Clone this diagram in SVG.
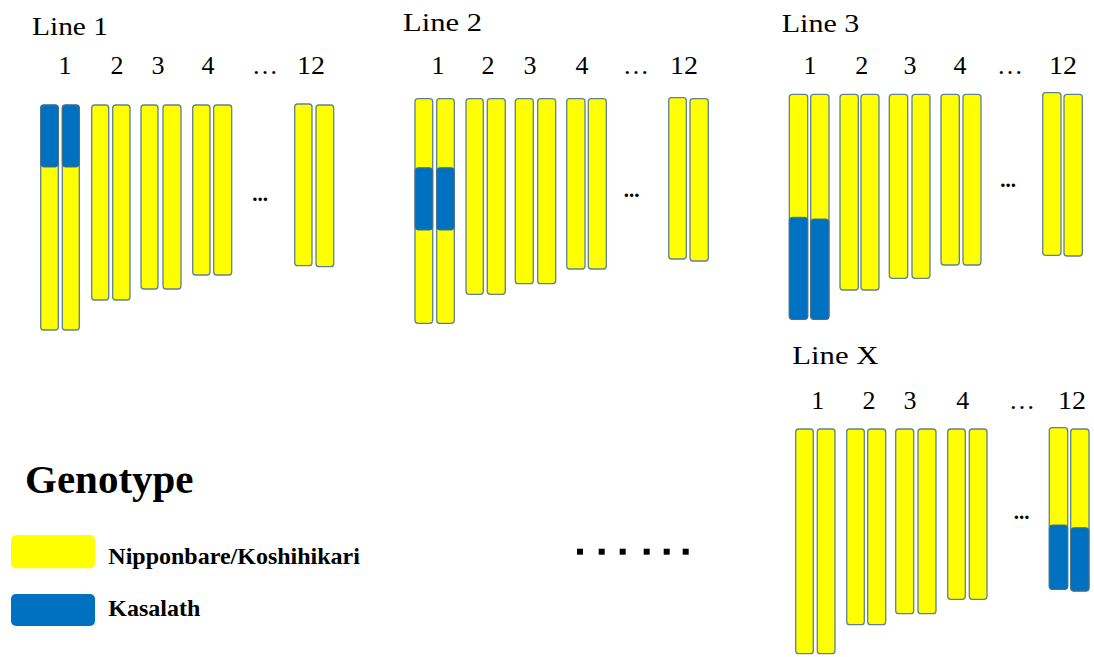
<svg xmlns="http://www.w3.org/2000/svg" width="1094" height="657" viewBox="0 0 1094 657">
<style>
.y{fill:#ffff00;stroke:#5f8290;stroke-width:1.3}
.b{fill:#0070c0;stroke:#4a7088;stroke-width:1}
.t{font-family:"Liberation Serif",serif;font-size:26px;fill:#000}
.n{font-family:"Liberation Serif",serif;font-size:26px;fill:#000;text-anchor:middle}
.d{font-family:"Liberation Serif",serif;font-size:21px;font-weight:bold;fill:#000;text-anchor:middle}
.l{font-family:"Liberation Serif",serif;font-weight:bold;fill:#000}
</style>
<rect width="1094" height="657" fill="#fff"/>
<g id="line1">
<text class="t" x="32" y="35" textLength="76" lengthAdjust="spacingAndGlyphs">Line 1</text>
<text class="n" x="65" y="74">1</text>
<text class="n" x="117" y="74">2</text>
<text class="n" x="158" y="74">3</text>
<text class="n" x="208" y="74">4</text>
<text class="n" x="265" y="74">…</text>
<text class="n" x="311" y="74" textLength="28" lengthAdjust="spacingAndGlyphs">12</text>
<rect class="y" x="40.7" y="105" width="17.6" height="225" rx="3"/>
<rect class="y" x="62.3" y="105" width="17" height="225" rx="3"/>
<rect class="b" x="40.7" y="105" width="17.6" height="62" rx="3"/>
<rect class="b" x="62.3" y="105" width="17" height="62" rx="3"/>
<rect class="y" x="91.7" y="105" width="17" height="195" rx="3"/>
<rect class="y" x="112.7" y="105" width="17.3" height="195" rx="3"/>
<rect class="y" x="141" y="105" width="17" height="184" rx="3"/>
<rect class="y" x="163" y="105" width="18" height="184" rx="3"/>
<rect class="y" x="192.7" y="105" width="17.3" height="170" rx="3"/>
<rect class="y" x="213.7" y="105" width="18" height="170" rx="3"/>
<text class="d" x="260" y="201">...</text>
<rect class="y" x="294.7" y="104" width="17.3" height="161.7" rx="3"/>
<rect class="y" x="316" y="105" width="17.7" height="161.7" rx="3"/>
</g>
<g id="line2">
<text class="t" x="403" y="31" textLength="79" lengthAdjust="spacingAndGlyphs">Line 2</text>
<text class="n" x="438" y="74">1</text>
<text class="n" x="488" y="74">2</text>
<text class="n" x="530" y="74">3</text>
<text class="n" x="582" y="74">4</text>
<text class="n" x="636" y="74">…</text>
<text class="n" x="684" y="74" textLength="28" lengthAdjust="spacingAndGlyphs">12</text>
<rect class="y" x="415" y="98.7" width="17.7" height="224.6" rx="3"/>
<rect class="y" x="436.7" y="98.7" width="17.6" height="224.6" rx="3"/>
<rect class="b" x="415" y="167.7" width="17.7" height="62.3" rx="3"/>
<rect class="b" x="436.7" y="167.7" width="17.6" height="62.3" rx="3"/>
<rect class="y" x="466" y="98.7" width="17.3" height="195.6" rx="3"/>
<rect class="y" x="487.3" y="98.7" width="18" height="195.6" rx="3"/>
<rect class="y" x="515.3" y="98.7" width="18" height="185" rx="3"/>
<rect class="y" x="537.7" y="98.7" width="18" height="185" rx="3"/>
<rect class="y" x="566.7" y="98.7" width="18.3" height="170.3" rx="3"/>
<rect class="y" x="588.3" y="98.7" width="18" height="170.3" rx="3"/>
<text class="d" x="631.7" y="197">...</text>
<rect class="y" x="668.7" y="97.7" width="17.6" height="161.3" rx="3"/>
<rect class="y" x="690" y="98.7" width="18.3" height="162.3" rx="3"/>
</g>
<g id="line3">
<text class="t" x="781.7" y="31.7" textLength="77.6" lengthAdjust="spacingAndGlyphs">Line 3</text>
<text class="n" x="810" y="74">1</text>
<text class="n" x="861.7" y="74">2</text>
<text class="n" x="910" y="74">3</text>
<text class="n" x="960" y="74">4</text>
<text class="n" x="1010" y="74">…</text>
<text class="n" x="1063" y="74" textLength="28" lengthAdjust="spacingAndGlyphs">12</text>
<rect class="y" x="789.3" y="94.3" width="18.4" height="225" rx="3"/>
<rect class="y" x="810.7" y="94.3" width="18.3" height="225" rx="3"/>
<rect class="b" x="789.3" y="217.3" width="18.4" height="102" rx="3"/>
<rect class="b" x="810.7" y="219" width="18.3" height="100.3" rx="3"/>
<rect class="y" x="840" y="94.3" width="18.3" height="195.7" rx="3"/>
<rect class="y" x="861" y="94.3" width="18" height="195.7" rx="3"/>
<rect class="y" x="889.3" y="94.3" width="18.4" height="184" rx="3"/>
<rect class="y" x="912" y="94.3" width="18" height="184" rx="3"/>
<rect class="y" x="941" y="94.3" width="18.3" height="170.7" rx="3"/>
<rect class="y" x="963" y="94.3" width="18" height="170.7" rx="3"/>
<text class="d" x="1008" y="187">...</text>
<rect class="y" x="1042.7" y="92.7" width="18.3" height="162.6" rx="3"/>
<rect class="y" x="1064" y="94.3" width="18.3" height="161.7" rx="3"/>
</g>
<g id="lineX">
<text class="t" x="792.3" y="364.3" textLength="86" lengthAdjust="spacingAndGlyphs">Line X</text>
<text class="n" x="817.7" y="409">1</text>
<text class="n" x="869" y="409">2</text>
<text class="n" x="910" y="409">3</text>
<text class="n" x="962.7" y="409">4</text>
<text class="n" x="1022" y="409">…</text>
<text class="n" x="1072" y="409" textLength="28" lengthAdjust="spacingAndGlyphs">12</text>
<rect class="y" x="795.7" y="429" width="17.6" height="224.7" rx="3"/>
<rect class="y" x="817.3" y="429" width="17.7" height="224.7" rx="3"/>
<rect class="y" x="846.7" y="429" width="17.6" height="195.7" rx="3"/>
<rect class="y" x="867.7" y="429" width="18" height="195.7" rx="3"/>
<rect class="y" x="895.7" y="429" width="18" height="184.7" rx="3"/>
<rect class="y" x="918" y="429" width="18" height="184.7" rx="3"/>
<rect class="y" x="947.7" y="429" width="17.6" height="170.3" rx="3"/>
<rect class="y" x="969.3" y="429" width="17.7" height="170.3" rx="3"/>
<text class="d" x="1021.7" y="519">...</text>
<rect class="y" x="1049.3" y="427.7" width="18.4" height="161.6" rx="3"/>
<rect class="y" x="1070.7" y="429" width="18.3" height="162" rx="3"/>
<rect class="b" x="1049.3" y="525" width="18.4" height="64.3" rx="3"/>
<rect class="b" x="1070.7" y="527.7" width="18.3" height="63.3" rx="3"/>
</g>
<g id="ellipsis">
<rect x="577" y="548.7" width="6" height="6" fill="#000"/>
<rect x="598.7" y="548.7" width="6" height="6" fill="#000"/>
<rect x="619.7" y="548.7" width="6" height="6" fill="#000"/>
<rect x="643.7" y="548.7" width="6" height="6" fill="#000"/>
<rect x="663.7" y="548.7" width="6" height="6" fill="#000"/>
<rect x="682.7" y="548.7" width="6" height="6" fill="#000"/>
</g>
<g id="legend">
<text class="l" x="25" y="493.3" font-size="41">Genotype</text>
<rect x="11" y="535" width="84" height="33.3" rx="5" fill="#ffff00"/>
<text class="l" x="108.3" y="564" font-size="24">Nipponbare/Koshihikari</text>
<rect x="11" y="594" width="84" height="32" rx="5" fill="#0070c0"/>
<text class="l" x="108.3" y="615.7" font-size="24">Kasalath</text>
</g>
</svg>
